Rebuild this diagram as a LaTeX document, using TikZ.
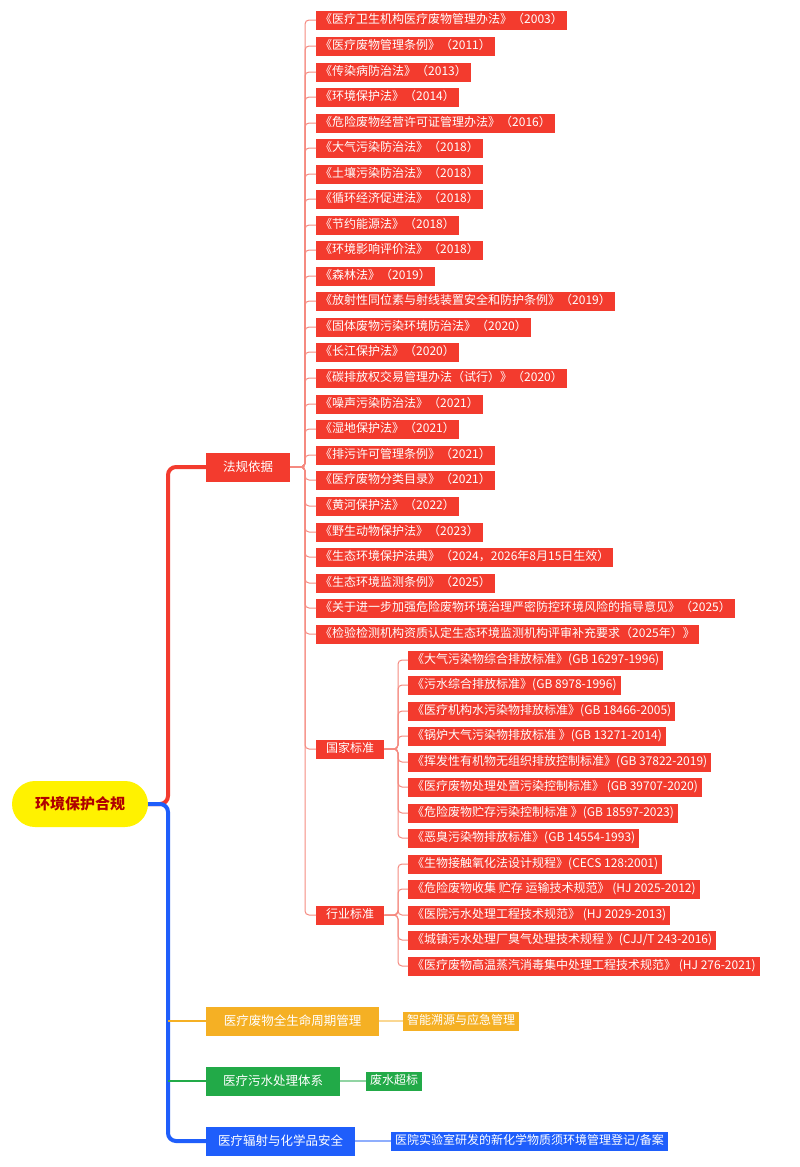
\documentclass[tikz,border=0pt]{standalone}
\usepackage{fontspec}
\setmainfont{Noto Sans CJK SC}
\definecolor{cred}{HTML}{F33B2E}
\definecolor{cpink}{HTML}{F58A80}
\definecolor{corange}{HTML}{F5B024}
\definecolor{cgreen}{HTML}{22AA48}
\definecolor{cblue}{HTML}{1F5EFB}
\definecolor{croot}{HTML}{B00000}
\begin{document}
\begin{tikzpicture}[x=1pt,y=-1pt,
  leaf/.style={fill=#1,text=white,anchor=west,font=\fontsize{12}{14}\selectfont,inner xsep=4pt,inner ysep=0pt,text height=10pt,text depth=3pt,minimum height=19pt},
  leaf/.default=cred,
  mid/.style={fill=#1,text=white,font=\fontsize{12.5}{14}\selectfont,inner xsep=0pt,inner ysep=0pt,minimum height=29pt,anchor=west},
  conn/.style={draw=cpink,line width=1pt,rounded corners=4pt}]
\useasboundingbox (0,0) rectangle (800,1167);
\node[fill=yellow,rounded corners=23pt,minimum width=136pt,minimum height=46pt,text=croot,font=\fontsize{15}{17}\selectfont\bfseries] (root) at (80,804) {环境保护合规};
\node[mid=cred,minimum width=84pt] (fa) at (206,467) {法规依据};
\node[mid=corange,minimum width=173pt] (yl) at (206,1021) {医疗废物全生命周期管理};
\node[mid=cgreen,minimum width=134pt] (ws) at (206,1081) {医疗污水处理体系};
\node[mid=cblue,minimum width=149pt] (fs) at (206,1141) {医疗辐射与化学品安全};
\coordinate (tr) at (168,804);
\draw[cred,line width=4pt,rounded corners=8pt] (root.east) -- (tr) |- (fa.west);
\draw[cblue,line width=4pt,rounded corners=8pt] (root.east) -- (tr) |- (fs.west);
\draw[corange,line width=2pt,rounded corners=4pt] (tr |- yl.west) -- (yl.west);
\draw[cgreen,line width=2pt,rounded corners=4pt] (tr |- ws.west) -- (ws.west);
\foreach \i/\y/\t in {1/20/{《医疗卫生机构医疗废物管理办法》（2003）},2/46/{《医疗废物管理条例》（2011）},3/72/{《传染病防治法》（2013）},4/97/{《环境保护法》（2014）},5/123/{《危险废物经营许可证管理办法》（2016）},6/148/{《大气污染防治法》（2018）},7/174/{《土壤污染防治法》（2018）},8/199/{《循环经济促进法》（2018）},9/225/{《节约能源法》（2018）},10/250/{《环境影响评价法》（2018）},11/276/{《森林法》（2019）},12/301/{《放射性同位素与射线装置安全和防护条例》（2019）},13/327/{《固体废物污染环境防治法》（2020）},14/352/{《长江保护法》（2020）},15/378/{《碳排放权交易管理办法（试行）》（2020）},16/404/{《噪声污染防治法》（2021）},17/429/{《湿地保护法》（2021）},18/455/{《排污许可管理条例》（2021）},19/480/{《医疗废物分类目录》（2021）},20/506/{《黄河保护法》（2022）},21/532/{《野生动物保护法》（2023）},22/557/{《生态环境保护法典》（2024，2026年8月15日生效）},23/583/{《生态环境监测条例》（2025）},24/608/{《关于进一步加强危险废物环境治理严密防控环境风险的指导意见》（2025）},25/634/{《检验检测机构资质认定生态环境监测机构评审补充要求（2025年）》}}{
  \node[leaf] (l\i) at (316,\y) {\t};
  \draw[conn] (fa.east) -- (305,467) |- (l\i.west);
}
\node[leaf,minimum width=68pt,inner xsep=0pt] (gj) at (316,749) {国家标准};
\node[leaf,minimum width=68pt,inner xsep=0pt] (hy) at (316,915) {行业标准};
\draw[conn] (fa.east) -- (305,467) |- (gj.west);
\draw[conn] (fa.east) -- (305,467) |- (hy.west);
\foreach \i/\y/\t in {1/660/{《大气污染物综合排放标准》(GB 16297-1996)},2/685/{《污水综合排放标准》(GB 8978-1996)},3/711/{《医疗机构水污染物排放标准》(GB 18466-2005)},4/736/{《锅炉大气污染物排放标准 》(GB 13271-2014)},5/762/{《挥发性有机物无组织排放控制标准》(GB 37822-2019)},6/787/{《医疗废物处理处置污染控制标准》 (GB 39707-2020)},7/813/{《危险废物贮存污染控制标准 》(GB 18597-2023)},8/838/{《恶臭污染物排放标准》(GB 14554-1993)}}{
  \node[leaf] (g\i) at (408,\y) {\t};
  \draw[conn] (gj.east) -- (398,749) |- (g\i.west);
}
\foreach \i/\y/\t in {1/864/{《生物接触氧化法设计规程》(CECS 128:2001)},2/889/{《危险废物收集 贮存 运输技术规范》 (HJ 2025-2012)},3/915/{《医院污水处理工程技术规范》 (HJ 2029-2013)},4/940/{《城镇污水处理厂臭气处理技术规程 》(CJJ/T 243-2016)},5/966/{《医疗废物高温蒸汽消毒集中处理工程技术规范》 (HJ 276-2021)}}{
  \node[leaf] (h\i) at (408,\y) {\t};
  \draw[conn] (hy.east) -- (398,915) |- (h\i.west);
}
\node[leaf=corange] (yl1) at (403,1021) {智能溯源与应急管理};
\draw[corange!50,line width=1.5pt] (yl.east) -- (yl1.west);
\node[leaf=cgreen] (ws1) at (366,1081) {废水超标};
\draw[cgreen!50,line width=1.5pt] (ws.east) -- (ws1.west);
\node[leaf=cblue] (fs1) at (391,1141) {医院实验室研发的新化学物质须环境管理登记/备案};
\draw[cblue!50,line width=1.5pt] (fs.east) -- (fs1.west);
\end{tikzpicture}
\end{document}
